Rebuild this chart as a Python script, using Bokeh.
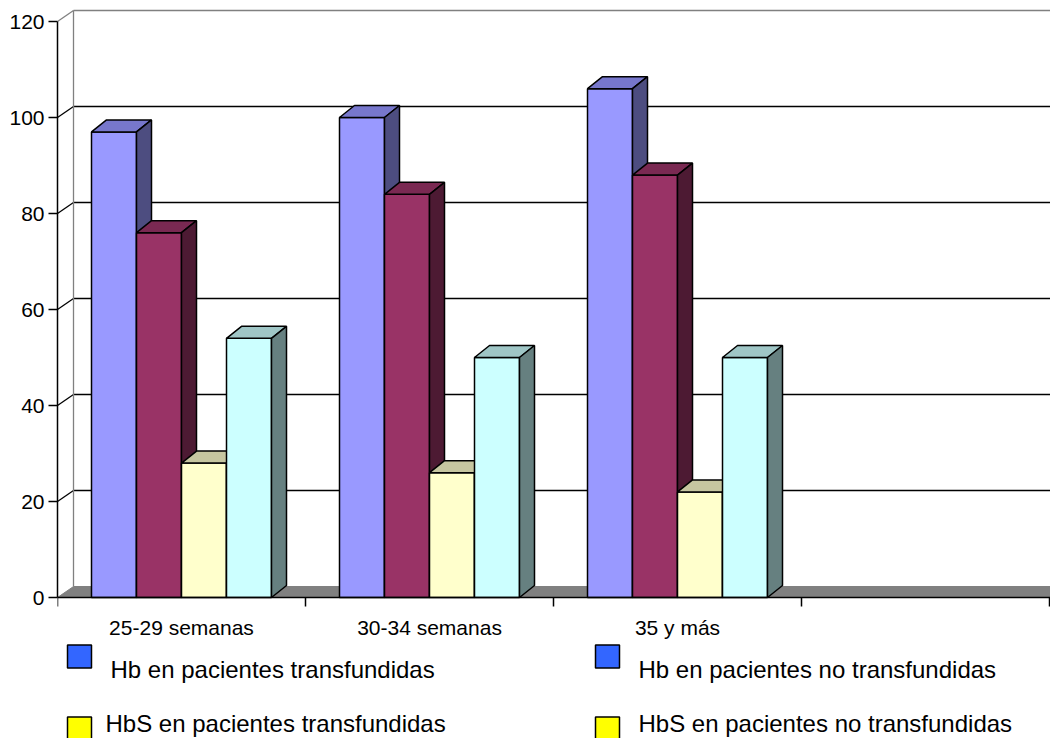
from bokeh.plotting import figure
from bokeh.models import Range1d, LinearAxis, FixedTicker
from bokeh.core.properties import value
from bokeh.embed import file_html
from bokeh.resources import INLINE

# ---------------- data ----------------
categories = ["25-29 semanas", "30-34 semanas", "35 y más"]
series_names = ["Hb en pacientes transfundidas", "Hb en pacientes no transfundidas",
                "HbS en pacientes transfundidas", "HbS en pacientes no transfundidas"]
hb_transf = [97, 100, 106]
hb_no_transf = [76, 84, 88]
hbs_transf = [28, 26, 22]
hbs_no_transf = [54, 50, 50]
y_ticks = [0, 20, 40, 60, 80, 100, 120]

series_values = [hb_transf, hb_no_transf, hbs_transf, hbs_no_transf]

# ---------------- styles ----------------
front_colors = ["#9999FF", "#993366", "#FFFFCC", "#CCFFFF"]
top_colors = ["#7777CC", "#7A2952", "#C6C6A0", "#9FC6C6"]
side_colors = ["#4D4D80", "#4D1A33", "#808066", "#668080"]
legend_colors = ["#3366FF", "#3366FF", "#FFFF00", "#FFFF00"]
FONT = "Liberation Sans"

# ---------------- layout ----------------
W, H = 1050, 738
LEFT = 57            # pixel x of the value axis
Y0PX = 597           # pixel y of value 0
PPU_Y = 4.8          # pixels per value unit
XMAX = 4.004         # 4 category slots (last one empty)
PPU_X = (W - LEFT) / XMAX

y_top = Y0PX / PPU_Y
y_bot = -(H - Y0PX) / PPU_Y

def px_x(px):
    return (px - LEFT) / PPU_X

def px_y(py):
    return (Y0PX - py) / PPU_Y

# 3-D offsets (converted from pixels to data units)
WDX, WDY = 16 / PPU_X, 11 / PPU_Y    # walls
BDX, BDY = 15 / PPU_X, 12 / PPU_Y    # bar depth
BAR_W = 45 / PPU_X

p = figure(width=W, height=H, x_range=Range1d(0, XMAX), y_range=Range1d(y_bot, y_top),
           x_axis_type=None, y_axis_type=None, output_backend="svg", toolbar_location=None,
           min_border_left=LEFT, min_border_right=0, min_border_top=0, min_border_bottom=0)
p.outline_line_color = None
p.background_fill_color = "white"
p.border_fill_color = "white"

# ---------------- walls & gridlines ----------------
grid_vals = [t for t in y_ticks if t > 0]
grid_cols = ["#808080" if t == max(y_ticks) else "black" for t in grid_vals]
p.segment(x0=[WDX] * len(grid_vals), y0=[t + WDY for t in grid_vals],
          x1=[XMAX] * len(grid_vals), y1=[t + WDY for t in grid_vals],
          line_color=grid_cols, line_width=1.3)
p.segment(x0=[0] * len(grid_vals), y0=grid_vals,
          x1=[WDX] * len(grid_vals), y1=[t + WDY for t in grid_vals],
          line_color=grid_cols, line_width=1.3)
p.segment(x0=[WDX], y0=[WDY], x1=[WDX], y1=[max(y_ticks) + WDY],
          line_color="#808080", line_width=1.3)

# floor
p.patch(x=[0, WDX, XMAX, XMAX], y=[0, WDY, WDY, 0],
        fill_color="#808080", line_color="#808080", line_width=1)

# ---------------- 3-D bars ----------------
n_series = len(series_values)
for i, vals in enumerate(series_values):
    fx, fy, tx, ty, sx, sy = [], [], [], [], [], []
    for c, v in enumerate(vals):
        xl = c + 0.5 + (i - n_series / 2) * BAR_W
        xr = xl + BAR_W
        fx.append([xl, xr, xr, xl]); fy.append([0, 0, v, v])
        tx.append([xl, xr, xr + BDX, xl + BDX]); ty.append([v, v, v + BDY, v + BDY])
        sx.append([xr, xr + BDX, xr + BDX, xr]); sy.append([0, BDY, v + BDY, v])
    p.patches(xs=fx, ys=fy, fill_color=front_colors[i], line_color="black", line_width=1.5)
    p.patches(xs=tx, ys=ty, fill_color=top_colors[i], line_color="black", line_width=1.5)
    p.patches(xs=sx, ys=sy, fill_color=side_colors[i], line_color="black", line_width=1.5)

# ---------------- axes ----------------
yaxis = LinearAxis(ticker=FixedTicker(ticks=y_ticks), bounds=(min(y_ticks), max(y_ticks)),
                   major_tick_out=9, major_tick_in=0, minor_tick_line_color=None,
                   major_tick_line_color="black", major_tick_line_width=1.5,
                   axis_line_color="black", axis_line_width=1.5,
                   major_label_standoff=4, major_label_text_font=FONT,
                   major_label_text_font_size="21px", major_label_text_color="black")
p.add_layout(yaxis, "left")

centers = [c + 0.5 for c in range(len(categories))]
bounds_ticks = [c for c in range(len(categories) + 2)]
xaxis = LinearAxis(fixed_location=0,
                   ticker=FixedTicker(ticks=centers, minor_ticks=bounds_ticks),
                   major_label_overrides={c: lab for c, lab in zip(centers, categories)},
                   major_tick_in=0, major_tick_out=0, minor_tick_in=0, minor_tick_out=9,
                   minor_tick_line_color="black", minor_tick_line_width=1.5,
                   axis_line_color="black", axis_line_width=1.5,
                   major_label_standoff=9, major_label_text_font=FONT,
                   major_label_text_font_size="21px", major_label_text_color="black")
p.add_layout(xaxis, "below")

# ---------------- legend (manual, 2 x 2) ----------------
leg_box_x = [79, 79, 607, 607]
leg_box_y = [656, 728, 656, 728]
leg_txt_x = [110, 105, 638, 638]
leg_txt_y = [669, 723, 669, 723]
order = [0, 2, 1, 3]   # series index shown at each legend slot
p.rect(x=[px_x(v) for v in leg_box_x], y=[px_y(v) for v in leg_box_y],
       width=24, height=23, width_units="screen", height_units="screen",
       fill_color=[legend_colors[k] for k in order], line_color="black", line_width=1.5)
p.text(x=[px_x(v) for v in leg_txt_x], y=[px_y(v) for v in leg_txt_y],
       text=[series_names[k] for k in order], text_font=value(FONT),
       text_font_size="24px", text_baseline="alphabetic", text_align="left",
       text_color="black")

open("out.html", "w").write(file_html(p, INLINE))
